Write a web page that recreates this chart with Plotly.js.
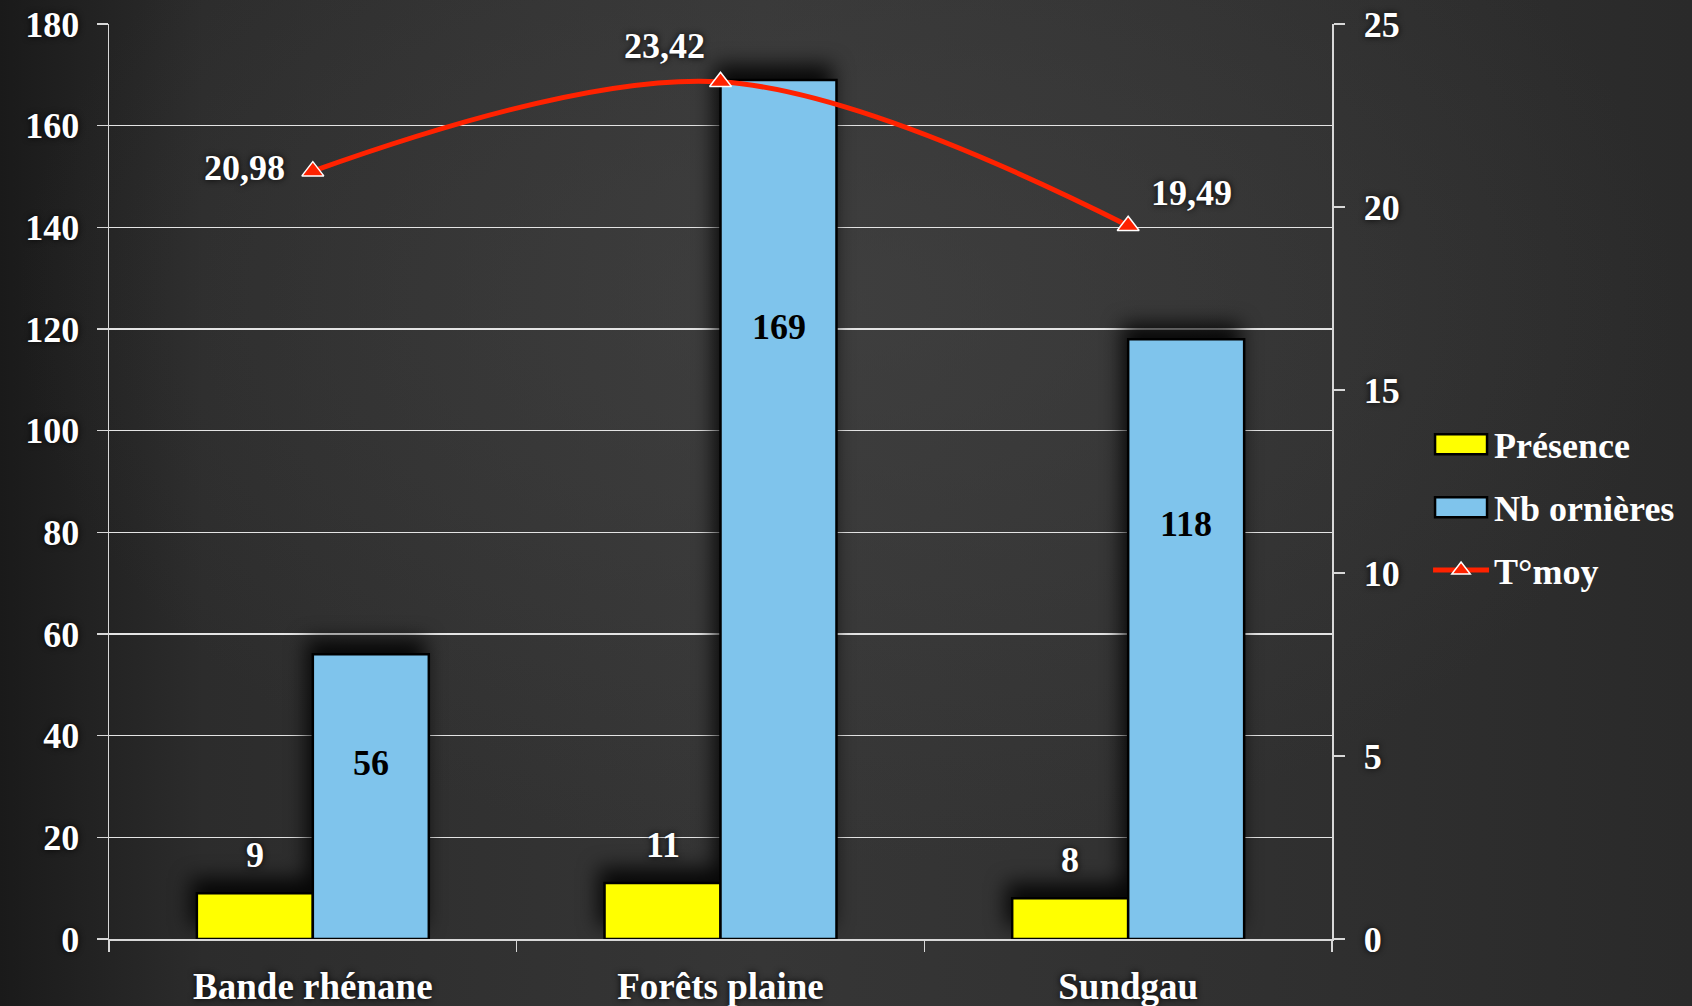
<!DOCTYPE html>
<html>
<head>
<meta charset="utf-8">
<script src="https://cdn.plot.ly/plotly-3.0.1.min.js"></script>
<style>
  html, body { margin:0; padding:0; }
  body {
    width:1692px; height:1006px; overflow:hidden;
    background:
      radial-gradient(ellipse 70% 80% at 50% 30%, rgba(70,70,70,0.55), rgba(0,0,0,0) 70%),
      linear-gradient(to right, #1a1a1a 0%, #2c2c2c 12%, #363636 45%, #303030 75%, #2a2a2a 100%);
  }
  #chart { width:1692px; height:1006px; }
  .barlayer { filter: drop-shadow(-5px -14px 10px rgba(0,0,0,0.85)); }
</style>
</head>
<body>
<div id="chart"></div>
<script>
// ---- data ----
const categories = ['Bande rhénane', 'Forêts plaine', 'Sundgau'];
const presence = [9, 11, 8];
const nbOrnieres = [56, 169, 118];
const tMoy = [20.98, 23.42, 19.49];
const leftTicks = [0, 20, 40, 60, 80, 100, 120, 140, 160, 180];
const rightTicks = [0, 5, 10, 15, 20, 25];

const serif = '"Liberation Serif", "Times New Roman", serif';
const shadow = '0px 0px 6px rgba(0,0,0,0.9)';
const fmt = v => v.toFixed(2).replace('.', ',');

const traces = [
  {
    type: 'bar', name: 'Présence', x: categories, y: presence,
    legendgroup: 'a',
    marker: { color: '#ffff00', line: { color: '#000000', width: 2.5 } },
    hoverinfo: 'skip'
  },
  {
    type: 'bar', name: 'Nb ornières', x: categories, y: nbOrnieres,
    legendgroup: 'b',
    marker: { color: '#7fc4ec', line: { color: '#000000', width: 2.5 } },
    hoverinfo: 'skip'
  },
  {
    type: 'scatter', mode: 'lines+markers', name: 'T°moy',
    x: categories, y: tMoy, yaxis: 'y2',
    legendgroup: 'c',
    line: { color: '#ff2200', width: 5, shape: 'spline', smoothing: 1 },
    marker: { symbol: 'triangle-up', size: 19, color: '#ff2200', line: { color: '#ffffff', width: 1.5 } },
    cliponaxis: false,
    hoverinfo: 'skip'
  }
];

const labelFont = { family: serif, size: 36, color: '#ffffff', weight: 'bold', shadow: shadow };
const annotations = [];
// line labels: placement per point (style only)
const lineLabelStyle = [
  { xanchor: 'right', yanchor: 'middle', xshift: -26, yshift: 3 },
  { xanchor: 'right', yanchor: 'middle', xshift: -14, yshift: 36 },
  { xanchor: 'left',  yanchor: 'middle', xshift: 21,  yshift: 33 }
];
categories.forEach((c, i) => {
  annotations.push({
    x: c, y: presence[i], xref: 'x', yref: 'y', showarrow: false,
    xshift: -58, yshift: 16, yanchor: 'bottom', text: String(presence[i]),
    font: labelFont
  });
  annotations.push({
    x: c, y: nbOrnieres[i] * 0.76 - 8, xref: 'x', yref: 'y', showarrow: false,
    xshift: 58, yanchor: 'middle', text: String(nbOrnieres[i]),
    font: { family: serif, size: 36, color: '#000000', weight: 'bold' }
  });
  annotations.push(Object.assign({
    x: c, y: tMoy[i], xref: 'x', yref: 'y2', showarrow: false,
    text: fmt(tMoy[i]), font: labelFont
  }, lineLabelStyle[i]));
});

const tickFont = { family: serif, size: 36, color: '#ffffff', weight: 'bold', shadow: shadow };

const layout = {
  width: 1692, height: 1006,
  paper_bgcolor: 'rgba(0,0,0,0)',
  plot_bgcolor: 'rgba(0,0,0,0)',
  margin: { l: 109, r: 360, t: 24, b: 67, pad: 0 },
  barmode: 'group', bargap: 0.431, bargroupgap: 0,
  showlegend: true,
  legend: {
    xref: 'container', yref: 'container',
    x: 0.844, y: 0.588, xanchor: 'left', yanchor: 'top',
    font: { family: serif, size: 36, color: '#ffffff', weight: 'bold' },
    bgcolor: 'rgba(0,0,0,0)', tracegroupgap: 13, traceorder: 'grouped',
    itemwidth: 56
  },
  xaxis: {
    type: 'category', showline: true, linecolor: '#d8d8d8', linewidth: 2,
    ticks: 'outside', tickson: 'boundaries', ticklen: 11, tickcolor: '#d8d8d8', tickwidth: 1.5,
    tickfont: { family: serif, size: 37, color: '#ffffff', weight: 'bold', shadow: shadow },
    ticklabelstandoff: 14,
    showgrid: false, zeroline: false, fixedrange: true
  },
  yaxis: {
    range: [0, 180], tickvals: leftTicks, showline: true, linecolor: '#d8d8d8', linewidth: 1.5,
    ticks: 'outside', ticklen: 11, tickcolor: '#d8d8d8', tickwidth: 1.5,
    showgrid: true, gridcolor: '#e4e4e4', gridwidth: 1.5, zeroline: false,
    tickfont: tickFont, ticklabelstandoff: 10, fixedrange: true
  },
  yaxis2: {
    range: [0, 25], tickvals: rightTicks, overlaying: 'y', side: 'right',
    showline: true, linecolor: '#d8d8d8', linewidth: 1.5,
    ticks: 'outside', ticklen: 11, tickcolor: '#d8d8d8', tickwidth: 1.5,
    showgrid: false, zeroline: false,
    tickfont: tickFont, ticklabelstandoff: 12, fixedrange: true
  },
  annotations: annotations
};

Plotly.newPlot('chart', traces, layout, { staticPlot: true, displayModeBar: false }).then(gd => {
  // enlarge bar legend swatches to wide rectangles
  gd.querySelectorAll('.legend .traces .legendpoints path').forEach(p => {
    const d = p.getAttribute('d') || '';
    if (/^M6,6H-6V-6H6Z$/.test(d)) {
      p.setAttribute('d', 'M26,10H-26V-10H26Z');
    }
  });
});
</script>
</body>
</html>
